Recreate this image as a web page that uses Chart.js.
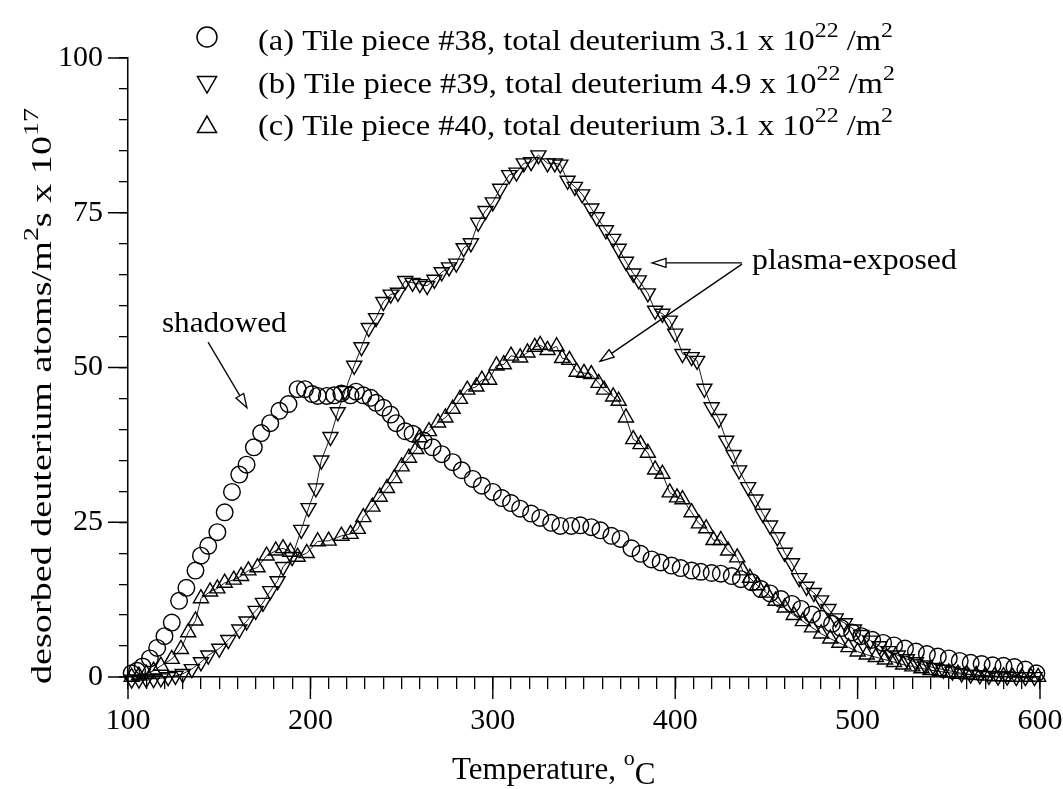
<!DOCTYPE html>
<html>
<head>
<meta charset="utf-8">
<script src="https://cdn.jsdelivr.net/npm/chart.js@4.4.1/dist/chart.umd.min.js"></script>
<style>
  html, body { margin: 0; padding: 0; background: #fff; }
</style>
</head>
<body>
<canvas id="tds-chart" width="1063" height="789"></canvas>
<script>
// temperature (C) and desorbed flux (x 10^17 atoms/m2 s)
const tempA = [102,105,108,112,116,120,124,128,132,137,140,144,149,153,157,161,165,169,173,178,
  183,188,193,197,201,204,209,213,217,222,225,229,233,236,240,244,247,252,256,262,
  267,272,278,283,289,294,300,305,310,315,321,326,332,337,343,348,354,359,365,370,
  376,381,387,392,398,403,409,414,420,425,431,436,442,447,452,458,464,469,475,480,
  486,491,497,502,508,514,520,526,532,538,544,550,556,562,568,574,580,586,592,598];
const fluxA = [0.6,1.0,1.7,3.0,4.7,6.6,8.8,12.3,14.4,17.2,19.6,21.2,23.4,26.6,29.9,32.7,34.3,37.1,39.4,41.0,
  43.0,44.1,46.5,46.5,45.7,45.4,45.4,45.5,45.8,45.5,46.1,45.5,45.1,44.3,43.5,42.4,41.0,39.7,39.3,38.2,
  37.1,36.0,34.7,33.4,32.0,30.9,29.9,28.9,28.1,27.2,26.4,25.7,24.9,24.4,24.4,24.5,24.2,23.7,22.8,22.3,
  20.8,19.9,19.0,18.5,18.0,17.6,17.2,17.0,16.8,16.7,16.3,15.8,15.3,14.2,13.5,12.6,11.8,11.0,10.1,9.4,
  8.6,7.9,7.2,6.6,6.0,5.5,5.1,4.6,4.1,3.7,3.3,3.0,2.6,2.3,2.1,1.9,1.8,1.6,1.2,0.6];

const tempB = [102,106,110,114,118,122,126,130,135,140,144,150,155,161,165,170,174,178,182,185,
  190,195,199,203,206,211,215,219,224,228,232,236,240,244,248,252,256,260,264,268,
  272,276,280,284,288,292,296,300,304,309,313,317,321,325,330,334,337,341,345,349,
  354,357,362,366,369,373,377,380,385,389,393,397,400,404,409,412,416,420,424,428,
  432,435,440,444,448,452,456,460,464,468,472,476,480,484,488,493,498,502,507,512,
  517,522,527,532,537,542,547,552,557,562,567,572,577,582,587,592,597];
const fluxB = [-0.4,-0.4,-0.3,-0.3,-0.2,0.0,0.2,0.5,1.3,2.4,3.5,4.6,6.0,7.7,9.0,10.7,12.0,13.9,15.5,17.8,
  19.4,23.8,27.3,30.5,35.0,38.8,42.8,46.2,50.3,53.3,56.4,58.0,60.6,61.8,62.1,64.0,63.7,63.5,63.2,64.2,
  65.4,66.2,66.8,69.3,70.1,73.4,75.3,76.7,78.9,81.1,81.5,83.0,83.2,84.3,83.0,83.0,82.8,80.2,79.2,78.0,
  75.7,74.3,72.2,70.8,69.2,67.1,65.2,64.1,62.0,59.2,58.7,57.6,55.5,52.2,51.7,51.1,46.6,43.6,41.7,38.2,
  35.9,33.4,30.7,28.7,26.4,24.5,22.6,20.1,18.4,16.0,14.6,13.6,12.4,11.0,9.5,8.7,7.7,6.8,5.9,5.0,
  4.2,3.5,2.9,2.4,1.9,1.5,1.2,0.9,0.6,0.4,0.3,0.2,0.1,0.1,0.0,0.0,0.0];

const tempC = [102,106,110,114,118,124,129,133,137,140,145,149,153,158,162,166,171,176,181,185,
  189,193,198,204,210,217,222,226,229,234,238,242,246,250,254,258,260,265,270,274,
  278,282,286,291,294,298,302,306,310,315,319,323,326,330,335,338,342,346,350,354,
  358,361,366,369,373,377,381,385,389,393,397,401,404,409,413,417,421,425,429,434,
  437,441,445,450,455,460,465,470,475,480,485,490,495,500,505,510,515,520,525,530,
  535,540,545,550,555,560,565,570,575,580,585,590,595,599];
const fluxC = [0.0,0.2,0.5,1.0,1.8,2.9,4.5,7.2,9.1,12.7,13.8,14.3,15.2,15.7,16.3,17.2,17.7,19.6,20.4,20.8,
  20.2,19.4,20.0,21.9,22.0,22.8,23.1,23.9,25.8,27.5,29.1,30.5,32.1,34.0,35.4,36.8,38.7,39.7,41.1,41.9,
  43.3,44.9,46.4,46.9,48.0,48.0,50.3,50.5,51.9,51.6,52.4,53.3,53.6,52.8,53.4,51.5,51.2,49.3,49.1,48.9,
  47.5,46.4,45.3,44.6,41.9,38.4,37.6,36.2,33.5,32.8,29.8,29.0,28.7,26.6,24.8,24.0,22.1,22.1,20.4,19.3,
  17.2,16.0,14.8,13.6,12.3,11.2,10.0,9.0,8.0,7.0,6.2,5.5,4.8,4.1,3.6,3.2,2.8,2.4,2.0,1.7,
  1.4,1.1,0.9,0.7,0.5,0.4,0.3,0.2,0.1,0.1,0.0,0.0,0.0,0.0];

const xMajorTicks = [100, 200, 300, 400, 500, 600];
const yMajorTicks = [0, 25, 50, 75, 100];

// legend rows: [text, 1 = superscript, -1 = lowered]
const legendRows = [
  [['(a) Tile piece #38, total deuterium 3.1 x 10', 0], ['22', 1], [' /m', 0], ['2', 1]],
  [['(b) Tile piece #39, total deuterium 4.9 x 10', 0], ['22', 1], [' /m', 0], ['2', 1]],
  [['(c) Tile piece #40, total deuterium 3.1 x 10', 0], ['22', 1], [' /m', 0], ['2', 1]]
];
const yTitle = [['desorbed deuterium atoms/m', 0], ['2', 1], ['s x 10', 0], ['17', 1]];
const xTitle = [['Temperature, ', 0], ['o', 1], ['C', -1]];

const SERIF = '"Liberation Serif", "Times New Roman", serif';

function toPoints(xs, ys) {
  return xs.map((x, i) => ({ x: x, y: ys[i] }));
}

function setFont(ctx, size, s) {
  ctx.font = (s === 1 ? Math.round(size * 0.72) : size) + 'px ' + SERIF;
}

function richWidth(ctx, parts, size) {
  let w = 0;
  for (const [t, s] of parts) {
    setFont(ctx, size, s);
    w += ctx.measureText(t).width;
  }
  return w;
}

// draws text pieces along the baseline, sx stretches along the text
function richText(ctx, parts, x, y, size, sx) {
  ctx.save();
  ctx.translate(x, y);
  ctx.scale(sx || 1, 1);
  let cx = 0;
  for (const [t, s] of parts) {
    setFont(ctx, size, s);
    const dy = s === 1 ? -size * 0.45 : (s === -1 ? size * 0.15 : 0);
    ctx.fillText(t, cx, dy);
    cx += ctx.measureText(t).width;
  }
  ctx.restore();
}

function openArrow(ctx, x1, y1, x2, y2) {
  const a = Math.atan2(y2 - y1, x2 - x1);
  const len = 14, hw = 4.5;
  const bx = x2 - len * Math.cos(a), by = y2 - len * Math.sin(a);
  ctx.beginPath();
  ctx.moveTo(x1, y1);
  ctx.lineTo(bx, by);
  ctx.stroke();
  ctx.beginPath();
  ctx.moveTo(x2, y2);
  ctx.lineTo(bx + hw * Math.sin(a), by - hw * Math.cos(a));
  ctx.lineTo(bx - hw * Math.sin(a), by + hw * Math.cos(a));
  ctx.closePath();
  ctx.fillStyle = '#fff';
  ctx.fill();
  ctx.stroke();
}

function triangle(ctx, x, y, r, down) {
  const s = down ? -1 : 1;
  ctx.beginPath();
  ctx.moveTo(x, y - s * r);
  ctx.lineTo(x + r * Math.sqrt(3) / 2, y + s * r / 2);
  ctx.lineTo(x - r * Math.sqrt(3) / 2, y + s * r / 2);
  ctx.closePath();
  ctx.stroke();
}

// major ticks, titles, legend and the text labels with arrows
const decorations = {
  id: 'decorations',
  afterDraw(chart) {
    const ctx = chart.ctx;
    const xs = chart.scales.x, ys = chart.scales.y;
    const area = chart.chartArea;
    ctx.save();
    ctx.strokeStyle = '#000';
    ctx.fillStyle = '#000';
    ctx.lineWidth = 1.4;

    ctx.beginPath();
    yMajorTicks.forEach(v => {
      const p = ys.getPixelForValue(v);
      ctx.moveTo(area.left - 20, p);
      ctx.lineTo(area.left, p);
    });
    xMajorTicks.forEach(v => {
      const p = xs.getPixelForValue(v);
      ctx.moveTo(p, area.bottom);
      ctx.lineTo(p, area.bottom + 22);
    });
    ctx.stroke();

    ctx.textBaseline = 'alphabetic';
    ctx.textAlign = 'left';

    // axis titles
    richText(ctx, xTitle, 452, 779, 31, 1);
    const yLen = richWidth(ctx, yTitle, 30);
    ctx.save();
    ctx.translate(51, 684);
    ctx.rotate(-Math.PI / 2);
    richText(ctx, yTitle, 0, 0, 30, 576 / yLen);
    ctx.restore();

    // legend
    const rowY = [50, 93, 135];
    ctx.lineWidth = 1.5;
    ctx.beginPath();
    ctx.arc(207, 37, 10, 0, Math.PI * 2);
    ctx.stroke();
    triangle(ctx, 207, 82, 11, true);
    triangle(ctx, 207, 127, 11, false);
    const rowLen = richWidth(ctx, legendRows[0], 30);
    legendRows.forEach((row, i) => richText(ctx, row, 258, rowY[i], 30, 635 / rowLen));

    // labels
    richText(ctx, [['shadowed', 0]], xs.getPixelForValue(118.6), ys.getPixelForValue(55.7), 30, 1.04);
    richText(ctx, [['plasma-exposed', 0]], xs.getPixelForValue(442.1), ys.getPixelForValue(65.9), 30, 1.06);
    ctx.lineWidth = 1.3;
    openArrow(ctx, xs.getPixelForValue(143.9), ys.getPixelForValue(54.1),
      xs.getPixelForValue(165.2), ys.getPixelForValue(43.5));
    openArrow(ctx, xs.getPixelForValue(436.6), ys.getPixelForValue(66.9),
      xs.getPixelForValue(387.3), ys.getPixelForValue(66.9));
    openArrow(ctx, xs.getPixelForValue(436.6), ys.getPixelForValue(66.7),
      xs.getPixelForValue(358.8), ys.getPixelForValue(51.0));
    ctx.restore();
  }
};

const markerBase = {
  borderColor: '#000',
  backgroundColor: 'rgba(0,0,0,0)',
  pointBorderColor: '#000',
  pointBackgroundColor: 'rgba(0,0,0,0)',
  pointBorderWidth: 1.4,
  clip: false
};

const ctx = document.getElementById('tds-chart');
new Chart(ctx, {
  type: 'scatter',
  data: {
    datasets: [
      Object.assign({}, markerBase, {
        label: 'Tile piece #38',
        data: toPoints(tempA, fluxA),
        pointStyle: 'circle',
        pointRadius: 8.3,
        showLine: false
      }),
      Object.assign({}, markerBase, {
        label: 'Tile piece #39',
        data: toPoints(tempB, fluxB),
        pointStyle: 'triangle',
        pointRotation: 180,
        pointRadius: 8.7,
        showLine: true,
        borderWidth: 0.9
      }),
      Object.assign({}, markerBase, {
        label: 'Tile piece #40',
        data: toPoints(tempC, fluxC),
        pointStyle: 'triangle',
        pointRadius: 8.7,
        showLine: true,
        borderWidth: 0.9
      })
    ]
  },
  options: {
    responsive: false,
    animation: false,
    devicePixelRatio: 1,
    layout: { padding: { top: 58, right: 23, left: 0, bottom: 0 } },
    plugins: {
      legend: { display: false },
      tooltip: { enabled: false }
    },
    scales: {
      x: {
        type: 'linear',
        min: 100,
        max: 600,
        afterFit: s => {
          s.height = 112;
          s.paddingLeft = 0;
          s.paddingRight = 0;
        },
        ticks: {
          stepSize: 10,
          autoSkip: false,
          maxRotation: 0,
          padding: 14,
          color: '#000',
          font: { family: SERIF, size: 30 },
          callback: v => (v % 100 === 0 ? v : '')
        },
        grid: { drawOnChartArea: false, drawTicks: true, tickLength: 12, color: '#000', lineWidth: 1.3 },
        border: { display: true, color: '#000', width: 1.5 }
      },
      y: {
        min: 0,
        max: 100,
        afterFit: s => {
          s.width = 128;
          s.paddingTop = 0;
          s.paddingBottom = 0;
        },
        ticks: {
          stepSize: 5,
          autoSkip: false,
          padding: 16,
          color: '#000',
          font: { family: SERIF, size: 30 },
          callback: v => (v % 25 === 0 ? v : '')
        },
        grid: { drawOnChartArea: false, drawTicks: true, tickLength: 9, color: '#000', lineWidth: 1.3 },
        border: { display: true, color: '#000', width: 1.5 }
      }
    }
  },
  plugins: [decorations]
});
</script>
</body>
</html>
